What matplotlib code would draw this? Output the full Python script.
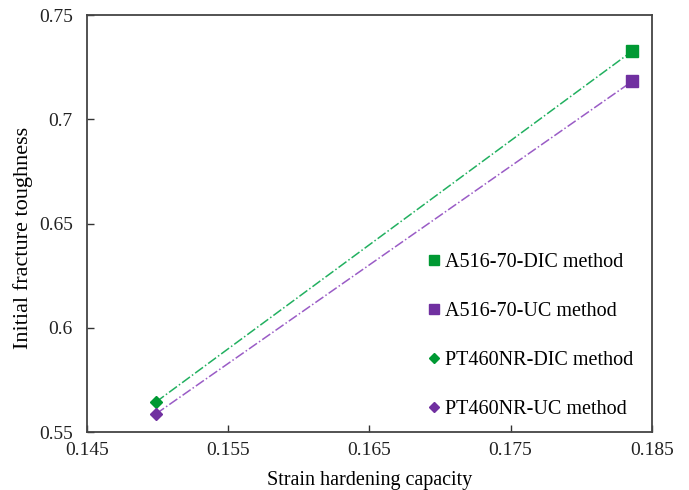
import matplotlib.pyplot as plt

plt.rcParams['font.family'] = ['Liberation Serif', 'DejaVu Serif']

# data
strain_a516 = [0.1836]
strain_pt460 = [0.1499]
a516_dic = [0.7327]
a516_uc = [0.7182]
pt460_dic = [0.5645]
pt460_uc = [0.5588]

green = '#009933'
purple = '#7030A0'

fig, ax = plt.subplots(figsize=(6.89, 4.9), dpi=100)
fig.subplots_adjust(left=0.126, right=0.946, top=0.969, bottom=0.118)

# dash-dot lines joining the two materials for each method
ax.plot(strain_pt460 + strain_a516, pt460_dic + a516_dic, '-.', color='#22B060', lw=1.1)
ax.plot(strain_pt460 + strain_a516, pt460_uc + a516_uc, '-.', color='#9A5CC6', lw=1.1)

ax.plot(strain_a516, a516_dic, 's', color=green, ms=8, ls='none', label='A516-70-DIC method')
ax.plot(strain_a516, a516_uc, 's', color=purple, ms=8, ls='none', label='A516-70-UC method')
ax.plot(strain_pt460, pt460_dic, 'D', color=green, ms=6, ls='none', label='PT460NR-DIC method')
ax.plot(strain_pt460, pt460_uc, 'D', color=purple, ms=6, ls='none', label='PT460NR-UC method')

ax.set_xlim(0.145, 0.185)
ax.set_ylim(0.55, 0.75)
ax.set_xticks([0.145, 0.155, 0.165, 0.175, 0.185])
ax.set_xticklabels(['0.145', '0.155', '0.165', '0.175', '0.185'])
ax.set_yticks([0.55, 0.6, 0.65, 0.7, 0.75])
ax.set_yticklabels(['0.55', '0.6', '0.65', '0.7', '0.75'])
ax.tick_params(direction='in', labelsize=14, length=5, width=1, colors='#333333', labelcolor='#222222')
ax.tick_params(axis='y', pad=10)
ax.tick_params(axis='x', pad=7)
for s in ax.spines.values():
    s.set_color('#444444')
    s.set_linewidth(1.3)

ax.set_xlabel('Strain hardening capacity', fontsize=14.5, labelpad=9)
ax.set_ylabel('Initial fracture toughness', fontsize=16)
ax.yaxis.set_label_coords(-0.096, 0.465)

ax.legend(loc='lower right', bbox_to_anchor=(1.0, -0.012), frameon=False, fontsize=14.5,
          labelspacing=1.48, handletextpad=0.05, handlelength=1.0, markerscale=0.85)

plt.savefig('out.png')
